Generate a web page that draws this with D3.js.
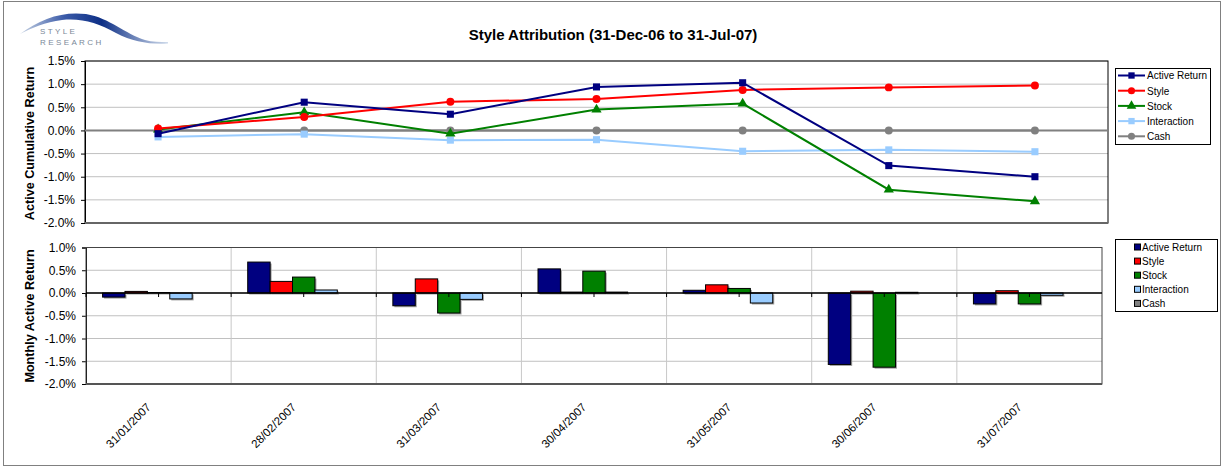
<!DOCTYPE html>
<html>
<head>
<meta charset="utf-8">
<title>Style Attribution</title>
<script src="https://d3js.org/d3.v7.min.js"></script>
<style>
  body { margin: 0; background: #fff; }
  text { font-family: "Liberation Sans", Arial, sans-serif; }
</style>
</head>
<body>
<script>
// data (values in %)
var categories = ["31/01/2007", "28/02/2007", "31/03/2007", "30/04/2007", "31/05/2007", "30/06/2007", "31/07/2007"];
var seriesNames = ["Active Return", "Style", "Stock", "Interaction", "Cash"];

var cumActive      = [-0.07, 0.61, 0.35, 0.94, 1.03, -0.76, -1.00];
var cumStyle       = [0.04, 0.29, 0.62, 0.68, 0.875, 0.93, 0.97];
var cumStock       = [0.02, 0.39, -0.07, 0.45, 0.58, -1.28, -1.53];
var cumInteraction = [-0.14, -0.08, -0.21, -0.20, -0.45, -0.42, -0.46];
var cumCash        = [0, 0, 0, 0, 0, 0, 0];

var monActive      = [-0.09, 0.68, -0.28, 0.53, 0.06, -1.57, -0.24];
var monStyle       = [0.035, 0.255, 0.31, 0.02, 0.18, 0.04, 0.05];
var monStock       = [0.01, 0.35, -0.44, 0.48, 0.10, -1.63, -0.24];
var monInteraction = [-0.13, 0.066, -0.14, 0.02, -0.22, 0.015, -0.05];
var monCash        = [0, 0, 0, 0, 0, 0, 0];

var topTicks = [1.5, 1.0, 0.5, 0.0, -0.5, -1.0, -1.5, -2.0];
var bottomTicks = [1.0, 0.5, 0.0, -0.5, -1.0, -1.5, -2.0];

var colors = ["#000080", "#ff0000", "#008000", "#99ccff", "#808080"];
var markers = [d3.symbolSquare, d3.symbolCircle, d3.symbolTriangle, d3.symbolSquare, d3.symbolCircle];

var cumSeries = [cumActive, cumStyle, cumStock, cumInteraction, cumCash];
var monSeries = [monActive, monStyle, monStock, monInteraction, monCash];

var W = 1225, H = 467;
var svg = d3.select("body").append("svg").attr("width", W).attr("height", H);

// outer frame
svg.append("rect").attr("x", 3.5).attr("y", 1.5).attr("width", 1217).attr("height", 464)
  .attr("fill", "#fff").attr("stroke", "#808080").attr("stroke-width", 1);

// logo
var grad = svg.append("defs").append("linearGradient").attr("id", "sw").attr("x1", "0").attr("x2", "1");
grad.append("stop").attr("offset", "0").attr("stop-color", "#c8d4e4");
grad.append("stop").attr("offset", "0.3").attr("stop-color", "#3a5aa8");
grad.append("stop").attr("offset", "0.55").attr("stop-color", "#0d2f86");
grad.append("stop").attr("offset", "1").attr("stop-color", "#d0dcec");
svg.append("path")
  .attr("d", "M20,34 C40,19 62,11 86,14 C110,18 125,34 145,40 C152,42 160,42 168,42 L168,43.5 C150,44.5 133,42 116,33 C98,23 82,18 62,20 C45,22 32,28 20,34 Z")
  .attr("fill", "url(#sw)");
svg.append("text").attr("x", 40).attr("y", 34).attr("font-size", 8).attr("letter-spacing", 2.4)
  .attr("fill", "#7a8898").text("STYLE");
svg.append("text").attr("x", 40).attr("y", 45).attr("font-size", 8).attr("letter-spacing", 2.4)
  .attr("fill", "#7a8898").text("RESEARCH");

// title
svg.append("text").attr("x", 613).attr("y", 40).attr("text-anchor", "middle")
  .attr("font-size", 15).attr("font-weight", "bold").text("Style Attribution (31-Dec-06 to 31-Jul-07)");

function pct(d) { return d.toFixed(1) + "%"; }

// ---------- top: cumulative lines ----------
var x1 = d3.scaleBand().domain(categories).range([85, 1108]);
var y1 = d3.scaleLinear().domain([-2, 1.5]).range([223, 61]);

var gTop = svg.append("g");
gTop.selectAll(".grid").data(topTicks).enter().append("line")
  .attr("x1", 85).attr("x2", 1108).attr("y1", d => y1(d)).attr("y2", d => y1(d))
  .attr("stroke", "#c0c0c0").attr("stroke-width", 1);

gTop.append("g").attr("transform", "translate(85,0)")
  .call(d3.axisLeft(y1).tickValues(topTicks).tickFormat(pct).tickSize(4).tickPadding(6))
  .call(g => g.select(".domain").attr("stroke", "#000"))
  .call(g => g.selectAll("text").attr("font-size", 12).attr("fill", "#000").attr("font-family", "Liberation Sans, Arial"));

gTop.append("rect").attr("x", 85).attr("y", 61).attr("width", 1023).attr("height", 162)
  .attr("fill", "none").attr("stroke", "#000").attr("stroke-width", 1);
gTop.append("line").attr("x1", 85).attr("x2", 1108).attr("y1", 223).attr("y2", 223)
  .attr("stroke", "#666").attr("stroke-width", 2);
// category axis crossing at zero
gTop.append("line").attr("x1", 85).attr("x2", 1108).attr("y1", y1(0)).attr("y2", y1(0))
  .attr("stroke", "#808080").attr("stroke-width", 2);

var line = d3.line().x((d, i) => x1(categories[i]) + x1.bandwidth() / 2).y(d => y1(d));
[4, 3, 2, 1, 0].forEach(function(s) {
  var vals = cumSeries[s];
  gTop.append("path").datum(vals).attr("d", line)
    .attr("fill", "none").attr("stroke", colors[s]).attr("stroke-width", 2);
  gTop.selectAll(".m" + s).data(vals).enter().append("path")
    .attr("transform", (d, i) => "translate(" + (x1(categories[i]) + x1.bandwidth() / 2) + "," + y1(d) + ")")
    .attr("d", d3.symbol().type(markers[s]).size(s === 2 ? 45 : 50))
    .attr("fill", colors[s]);
});

svg.append("text").attr("transform", "translate(34,143.5) rotate(-90)").attr("text-anchor", "middle")
  .attr("font-size", 12.6).attr("font-weight", "bold").text("Active Cumulative Return");

// top legend
var lg1 = svg.append("g");
lg1.append("rect").attr("x", 1115.5).attr("y", 68.5).attr("width", 95).attr("height", 76)
  .attr("fill", "#fff").attr("stroke", "#000");
seriesNames.forEach(function(n, i) {
  var yy = 75.5 + i * 15.2;
  lg1.append("line").attr("x1", 1118).attr("x2", 1145).attr("y1", yy).attr("y2", yy)
    .attr("stroke", colors[i]).attr("stroke-width", 2);
  lg1.append("path").attr("transform", "translate(1131.5," + yy + ")")
    .attr("d", d3.symbol().type(markers[i]).size(40)).attr("fill", colors[i]);
  lg1.append("text").attr("x", 1147).attr("y", yy + 3.8).attr("font-size", 10).text(n);
});

// ---------- bottom: monthly bars ----------
var x2 = d3.scaleBand().domain(categories).range([86, 1102]);
var xs = d3.scaleBand().domain(seriesNames).range([0, x2.bandwidth()]).paddingInner(0).paddingOuter(0.74);
var y2 = d3.scaleLinear().domain([-2, 1]).range([384, 247.5]);

var gBot = svg.append("g");
gBot.selectAll(".grid").data(bottomTicks).enter().append("line")
  .attr("x1", 86).attr("x2", 1102).attr("y1", d => y2(d)).attr("y2", d => y2(d))
  .attr("stroke", "#c0c0c0").attr("stroke-width", 1);
gBot.selectAll(".vgrid").data(categories.slice(1)).enter().append("line")
  .attr("x1", d => x2(d)).attr("x2", d => x2(d)).attr("y1", 247.5).attr("y2", 384)
  .attr("stroke", "#c8c8c8").attr("stroke-width", 1);

gBot.append("g").attr("transform", "translate(86,0)")
  .call(d3.axisLeft(y2).tickValues(bottomTicks).tickFormat(pct).tickSize(4).tickPadding(6))
  .call(g => g.select(".domain").attr("stroke", "#000"))
  .call(g => g.selectAll("text").attr("font-size", 12).attr("fill", "#000").attr("font-family", "Liberation Sans, Arial"));

gBot.append("rect").attr("x", 86).attr("y", 247.5).attr("width", 1016).attr("height", 136.5)
  .attr("fill", "none").attr("stroke", "#444").attr("stroke-width", 1);
gBot.append("line").attr("x1", 86).attr("x2", 1102).attr("y1", 384).attr("y2", 384)
  .attr("stroke", "#555").attr("stroke-width", 2);

monSeries.forEach(function(vals, s) {
  // shadow
  gBot.selectAll(".sh" + s).data(vals).enter().append("rect")
    .attr("x", (d, i) => x2(categories[i]) + xs(seriesNames[s]) + 1.5)
    .attr("y", d => Math.min(y2(d), y2(0)) + 1.5)
    .attr("width", xs.bandwidth())
    .attr("height", d => Math.abs(y2(d) - y2(0)))
    .attr("fill", "#a0a0a0");
  gBot.selectAll(".b" + s).data(vals).enter().append("rect")
    .attr("x", (d, i) => x2(categories[i]) + xs(seriesNames[s]))
    .attr("y", d => Math.min(y2(d), y2(0)))
    .attr("width", xs.bandwidth())
    .attr("height", d => Math.abs(y2(d) - y2(0)))
    .attr("fill", colors[s]).attr("stroke", "#000").attr("stroke-width", 1);
});

// zero axis with ticks
gBot.append("line").attr("x1", 86).attr("x2", 1102).attr("y1", y2(0)).attr("y2", y2(0))
  .attr("stroke", "#000").attr("stroke-width", 1.5);
var halfTicks = [];
categories.forEach(function(c) { halfTicks.push(x2(c)); halfTicks.push(x2(c) + x2.bandwidth() / 2); });
gBot.selectAll(".zt").data(halfTicks).enter().append("line")
  .attr("x1", d => d).attr("x2", d => d).attr("y1", y2(0)).attr("y2", y2(0) + 4)
  .attr("stroke", "#000");

// rotated category labels
gBot.selectAll(".xl").data(categories).enter().append("text")
  .attr("transform", d => "translate(" + (x2(d) + x2.bandwidth() / 2 - 7) + ",408) rotate(-45)")
  .attr("text-anchor", "end").attr("font-size", 11.5).text(d => d);

svg.append("text").attr("transform", "translate(34,316) rotate(-90)").attr("text-anchor", "middle")
  .attr("font-size", 12.6).attr("font-weight", "bold").text("Monthly Active Return");

// bottom legend
var lg2 = svg.append("g");
lg2.append("rect").attr("x", 1115.5).attr("y", 239.5).attr("width", 102).attr("height", 72)
  .attr("fill", "#fff").attr("stroke", "#000");
seriesNames.forEach(function(n, i) {
  var yy = 247.5 + i * 14.1;
  lg2.append("rect").attr("x", 1134.5).attr("y", yy - 3.5).attr("width", 6).attr("height", 6)
    .attr("fill", colors[i]).attr("stroke", "#000");
  lg2.append("text").attr("x", 1142).attr("y", yy + 3.5).attr("font-size", 10).text(n);
});
</script>
</body>
</html>
